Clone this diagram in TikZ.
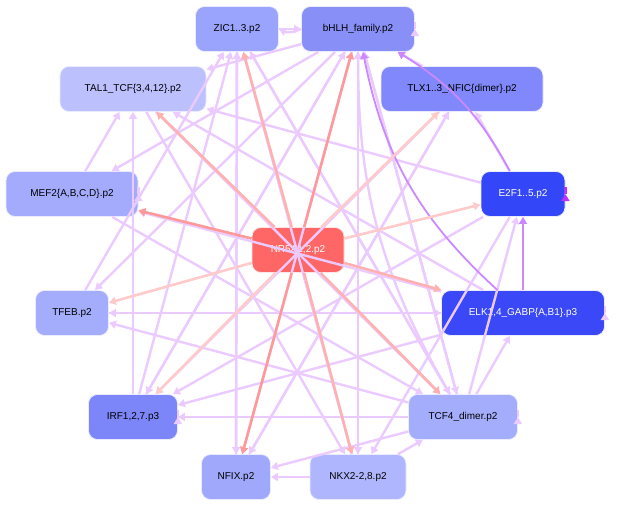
\documentclass[tikz,border=0pt]{standalone}
\usepackage{fontspec}
\setmainfont{Liberation Sans}
\usetikzlibrary{arrows.meta}
\definecolor{lilac}{HTML}{EBCBFF}
\definecolor{violet1}{HTML}{CC88FF}
\definecolor{violet2}{HTML}{BB33FF}
\definecolor{red1}{HTML}{FF9999}
\definecolor{red2}{HTML}{FFB0B0}
\definecolor{red3}{HTML}{FFCACA}
\tikzset{
  tf/.style={draw=blue!8, line width=0.8pt, rounded corners=9pt, minimum height=45pt,
    inner sep=0pt, font=\fontsize{10}{12}\selectfont},
  pe/.style={draw=lilac, line width=2.4pt, -{Triangle[length=7pt,width=8pt]}},
  re/.style={draw=#1, line width=2.6pt, -{Triangle[length=7pt,width=8pt]}},
  loopr/.style={pe, looseness=5, out=20, in=-20},
}
\begin{document}
\begin{tikzpicture}[x=1pt,y=-1pt]
\useasboundingbox (0,0) rectangle (631,507);

% transcription factor nodes
\node [tf, fill={rgb,255:red,154;green,164;blue,252}, minimum width=83pt] (zic) at (237,29) {ZIC1..3.p2};
\node [tf, fill={rgb,255:red,136;green,144;blue,248}, minimum width=113pt] (bhlh) at (358,29) {bHLH\_family.p2};
\node [tf, fill={rgb,255:red,188;green,192;blue,253}, minimum width=146pt] (tal) at (133,89) {TAL1\_TCF\{3,4,12\}.p2};
\node [tf, fill={rgb,255:red,128;green,136;blue,251}, minimum width=162pt] (tlx) at (462,89) {TLX1..3\_NFIC\{dimer\}.p2};
\node [tf, fill={rgb,255:red,164;green,171;blue,252}, minimum width=132pt] (mef) at (72,194) {MEF2\{A,B,C,D\}.p2};
\node [tf, fill={rgb,255:red,51;green,70;blue,248}, text=white, minimum width=84pt] (e2f) at (523,194) {E2F1..5.p2};
\node [tf, fill={rgb,255:red,255;green,102;blue,102}, draw=red!10, text=white, minimum width=92pt] (nr5) at (298,250) {NR5A1,2.p2};
\node [tf, fill={rgb,255:red,164;green,172;blue,252}, minimum width=73pt] (tfeb) at (72,313) {TFEB.p2};
\node [tf, fill={rgb,255:red,58;green,72;blue,248}, text=white, minimum width=163pt] (elk) at (523,313) {ELK1,4\_GABP\{A,B1\}.p3};
\node [tf, fill={rgb,255:red,124;green,134;blue,248}, minimum width=89pt] (irf) at (133,417) {IRF1,2,7.p3};
\node [tf, fill={rgb,255:red,164;green,172;blue,252}, minimum width=109pt] (tcf) at (463,417) {TCF4\_dimer.p2};
\node [tf, fill={rgb,255:red,160;green,168;blue,252}, minimum width=69pt] (nfix) at (236,477) {NFIX.p2};
\node [tf, fill={rgb,255:red,176;green,182;blue,253}, minimum width=96pt] (nkx) at (358,477) {NKX2-2,8.p2};

\begin{scope}[on background layer/.style={}]
% light regulatory edges
\foreach \a/\b in {tlx/bhlh, mef/tal, e2f/tal, e2f/tlx, elk/tal, tfeb/elk, elk/tfeb,
  tcf/tfeb, tcf/irf, elk/irf, tcf/elk, tcf/nfix, nkx/nfix, nkx/tcf, bhlh/mef, bhlh/tal,
  bhlh/tfeb, bhlh/irf, zic/nfix, nfix/zic, irf/zic, nkx/zic, tcf/zic, mef/tcf, tal/tcf,
  tal/nkx, bhlh/nkx, bhlh/nfix, bhlh/tcf, tlx/irf, tlx/nfix, e2f/irf, e2f/nkx, irf/bhlh,
  tcf/bhlh, nfix/tlx, irf/tal, nkx/bhlh, elk/mef, tcf/e2f, zic/tcf, tfeb/zic}
  \draw [pe] (\a) -- (\b);
\draw [pe] (zic.east) -- (bhlh.west);
\draw [pe] (bhlh.west) to [bend left=25] (zic.east);
\draw [loopr] (bhlh.east) to (bhlh.east);
\draw [loopr] (mef.east) to (mef.east);
\draw [loopr] (elk.east) to (elk.east);
\draw [loopr] (irf.east) to (irf.east);
\draw [loopr] (tcf.east) to (tcf.east);
\draw [pe] (tcf) to [bend left=15] (bhlh);
% strong edges
\draw [pe, draw=violet1, line width=1.8pt] (elk) -- (e2f);
\draw [pe, draw=violet1, line width=1.8pt] (elk) to [bend left=18] (bhlh);
\draw [pe, draw=violet1, line width=1.8pt] (e2f) to [bend right=15] (bhlh);
\draw [pe, draw=violet2, looseness=5, out=20, in=-20] (e2f.east) to (e2f.east);
\end{scope}

% edges from NR5A1,2
\foreach \b/\c in {zic/red2, bhlh/red1, tal/red2, tlx/red3, mef/red1, e2f/red3,
  tfeb/red3, elk/red2, irf/red3, tcf/red2, nfix/red1, nkx/red2}
  \draw [re=\c] (nr5) -- (\b);
\end{tikzpicture}
\end{document}
